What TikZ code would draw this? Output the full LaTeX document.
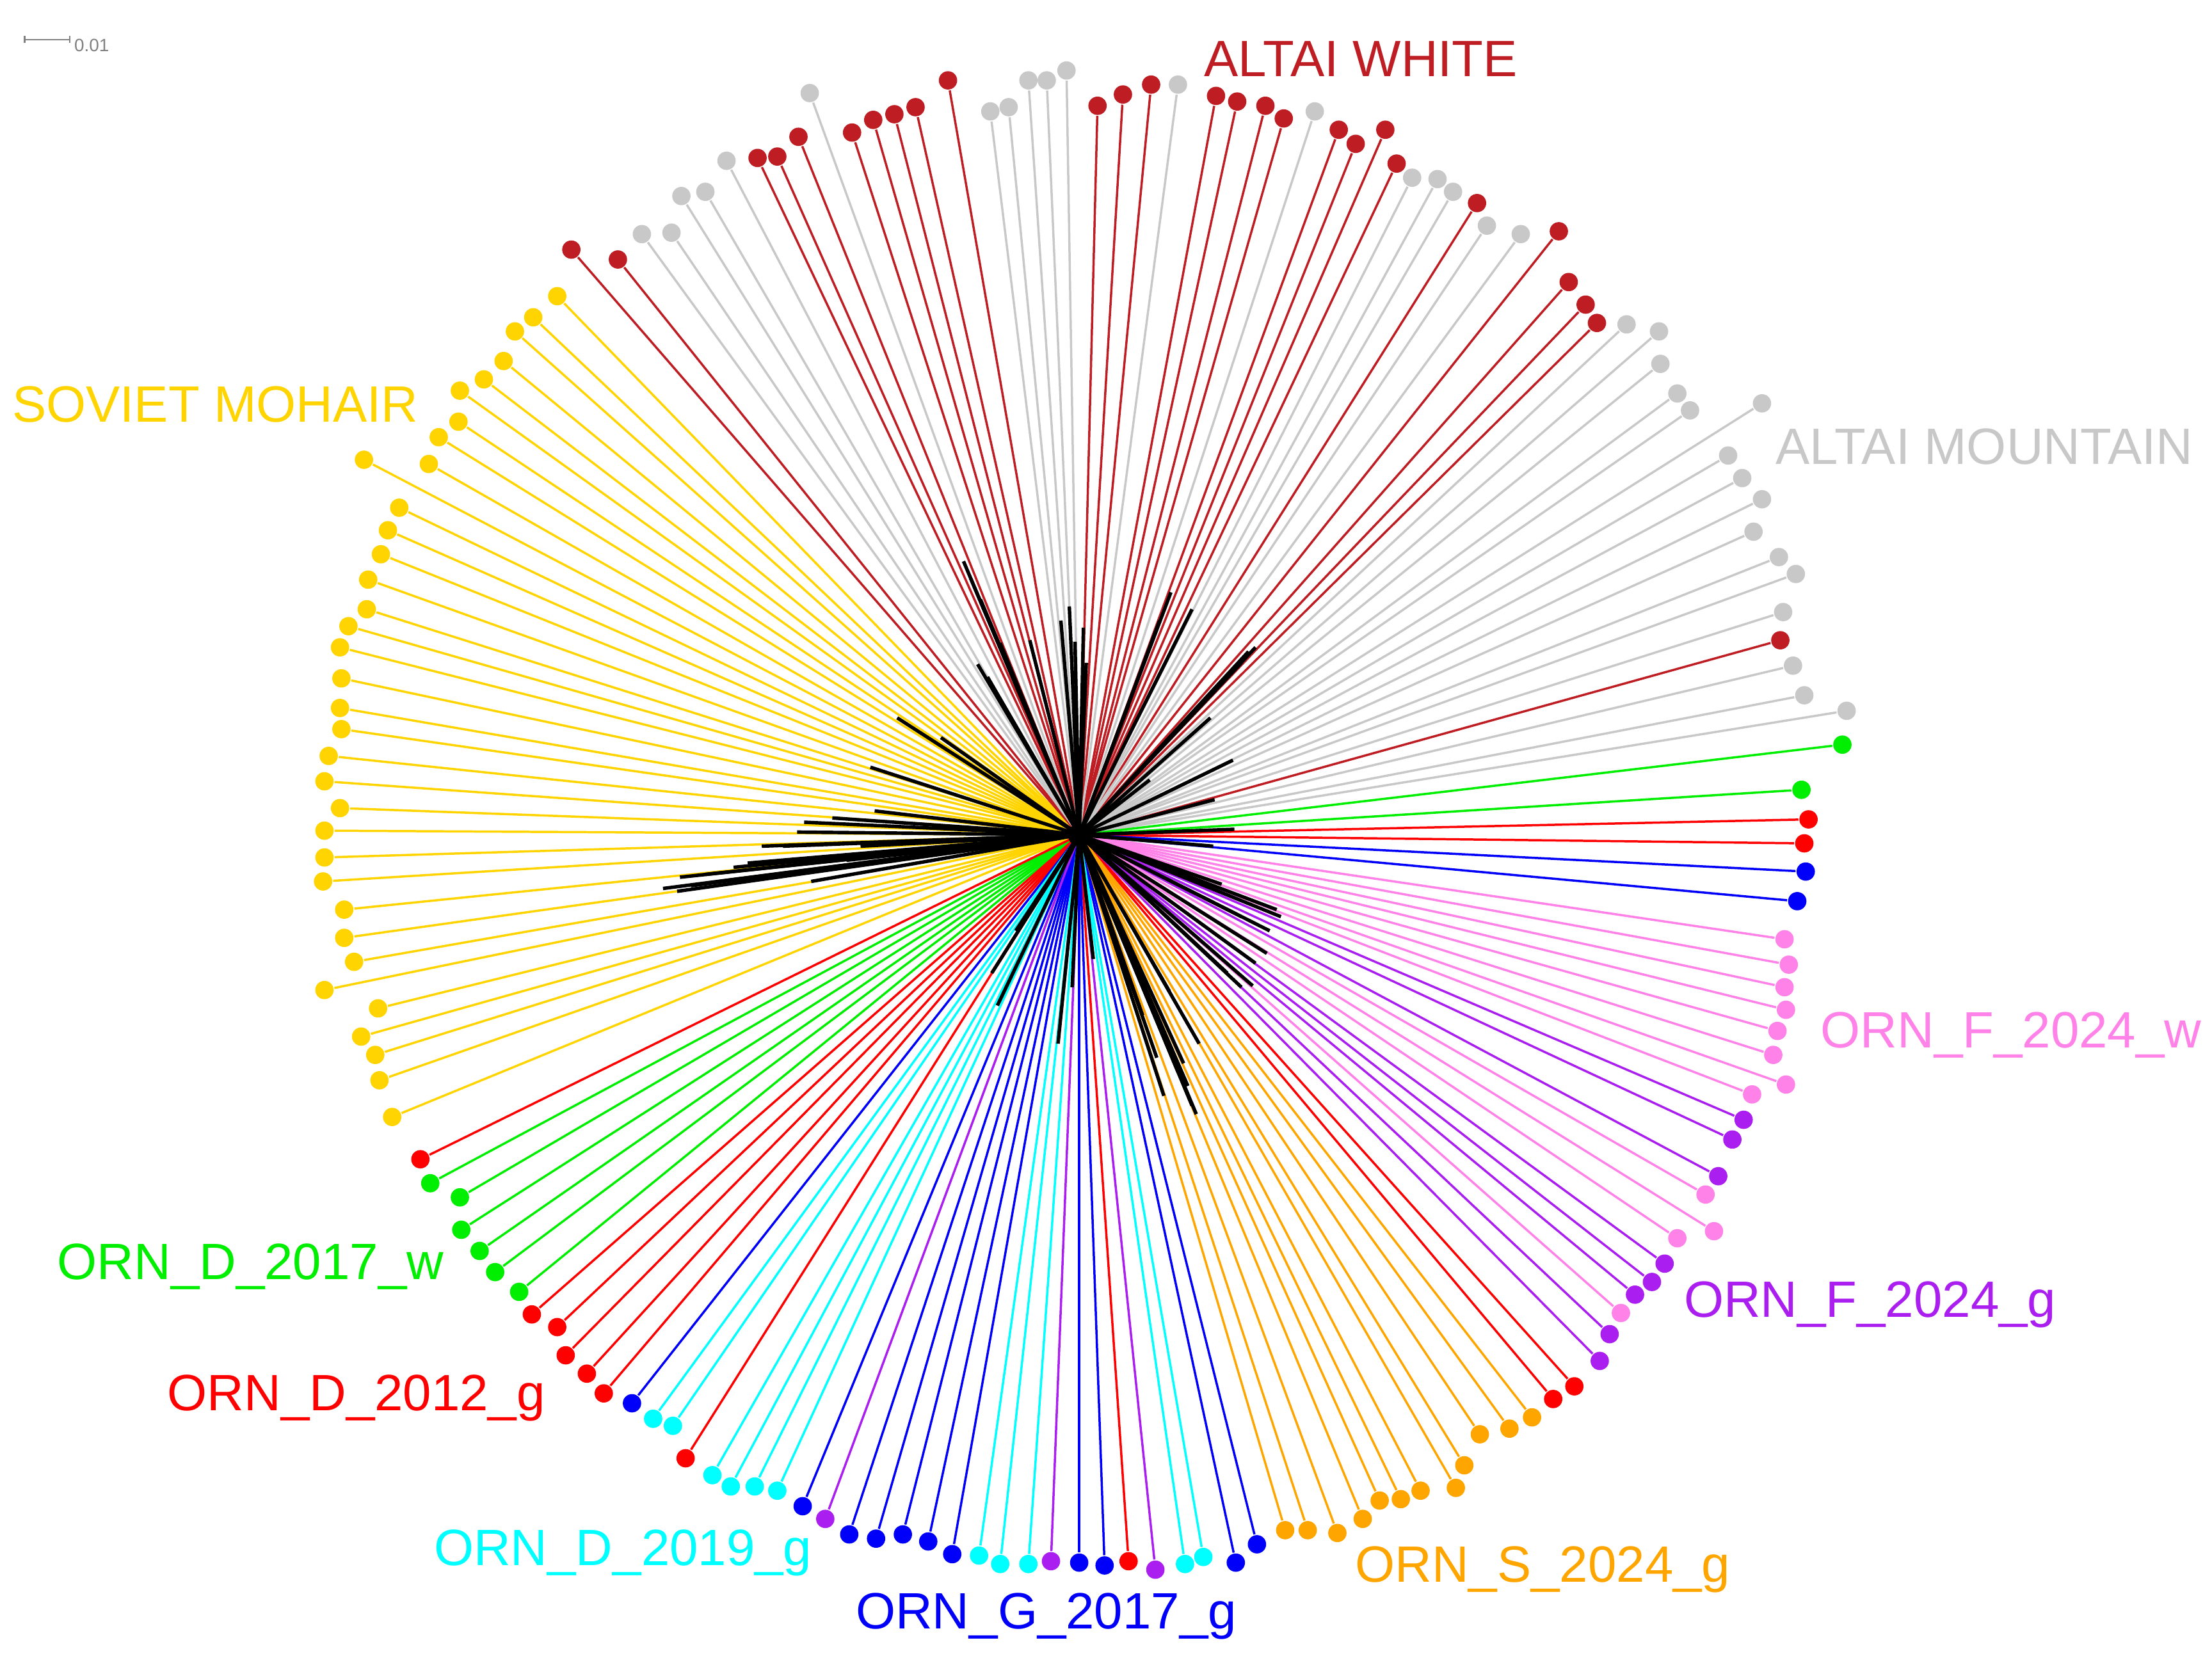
\documentclass[tikz,border=0pt]{standalone}
\usepackage{fontspec}
\setmainfont{Liberation Sans}
\usepackage{tikz}
\usetikzlibrary{arrows.meta}
\definecolor{mohair}{RGB}{255,212,0}
\definecolor{awhite}{RGB}{190,30,35}
\definecolor{amount}{RGB}{200,200,200}
\definecolor{dwcol}{RGB}{0,238,0}
\definecolor{dgcol}{RGB}{255,0,0}
\definecolor{ggcol}{RGB}{0,0,250}
\definecolor{dccol}{RGB}{0,255,255}
\definecolor{fgcol}{RGB}{170,30,240}
\definecolor{fwcol}{RGB}{255,130,232}
\definecolor{sgcol}{RGB}{255,165,0}
\tikzstyle{leaf} = [circle, inner sep = 0pt, minimum size = 0.13cm]
\tikzstyle{line} = [draw, line width = 0.45pt]
\tikzstyle{branch} = [draw, black, line width = 0.7pt]
\tikzstyle{lab} = [inner sep = 0pt, anchor = base west, font = \fontsize{10.3}{12}\selectfont]

\begin{document}
\begin{tikzpicture}[x=0.01cm, y=-0.01cm]
			\useasboundingbox (0,0) rectangle (1568,1179);
			\coordinate (hub) at (765,592);

			% leaves, one loop per group
			\foreach \x/\y [count=\i] in {395/210, 378/225, 365/235, 357/256, 343/269, 326/277, 325/299, 311/310, 258/326, 304/329, 283/360, 275/376, 270/393, 261/411, 260/432, 247/444, 241/459, 242/481, 241/502, 242/517, 233/536, 230/554, 241/573, 230/589, 230/608, 229/625, 244/645, 244/665, 251/682, 230/702, 268/715, 256/735, 266/748, 269/766, 278/792} {
				\node [leaf, fill=mohair] (sm\i) at (\x,\y) {};
				\path [line, draw=mohair] (hub) -- (sm\i);
			}
			\foreach \x/\y [count=\i] in {405/177, 438/184, 537/112, 551/111, 566/97, 604/94, 619/85, 634/81, 649/76, 672/57, 778/75, 796/67, 816/60, 862/68, 877/72, 897/75, 910/84, 949/92, 961/102, 982/92, 990/116, 1047/144, 1105/164, 1112/200, 1124/216, 1132/229, 1262/454} {
				\node [leaf, fill=awhite] (aw\i) at (\x,\y) {};
				\path [line, draw=awhite] (hub) -- (aw\i);
			}
			\foreach \x/\y [count=\i] in {455/166, 476/165, 483/139, 500/136, 515/114, 574/66, 702/79, 715/76, 729/57, 742/57, 756/50, 835/60, 932/79, 1001/126, 1019/127, 1030/136, 1054/160, 1078/166, 1153/230, 1176/235, 1177/258, 1189/279, 1198/291, 1249/286, 1225/323, 1235/339, 1249/354, 1243/377, 1261/395, 1273/407, 1264/434, 1271/472, 1279/493, 1309/504} {
				\node [leaf, fill=amount] (am\i) at (\x,\y) {};
				\path [line, draw=amount] (hub) -- (am\i);
			}
			\foreach \x/\y [count=\i] in {1306/528, 1277/560, 305/839, 326/849, 327/872, 340/887, 351/902, 368/916} {
				\node [leaf, fill=dwcol] (dw\i) at (\x,\y) {};
				\path [line, draw=dwcol] (hub) -- (dw\i);
			}
			\foreach \x/\y [count=\i] in {1282/581, 1279/598, 1116/983, 1101/992, 800/1107, 486/1034, 428/988, 416/974, 401/961, 395/941, 377/932, 298/822} {
				\node [leaf, fill=dgcol] (dg\i) at (\x,\y) {};
				\path [line, draw=dgcol] (hub) -- (dg\i);
			}
			\foreach \x/\y [count=\i] in {1280/618, 1274/639, 891/1095, 876/1108, 783/1110, 765/1108, 675/1102, 658/1093, 640/1088, 621/1091, 602/1088, 569/1068, 448/995} {
				\node [leaf, fill=ggcol] (gg\i) at (\x,\y) {};
				\path [line, draw=ggcol] (hub) -- (gg\i);
			}
			\foreach \x/\y [count=\i] in {853/1104, 840/1109, 729/1109, 709/1109, 694/1103, 551/1057, 535/1054, 518/1054, 505/1046, 477/1011, 463/1006} {
				\node [leaf, fill=dccol] (dc\i) at (\x,\y) {};
				\path [line, draw=dccol] (hub) -- (dc\i);
			}
			\foreach \x/\y [count=\i] in {1236/794, 1228/808, 1218/834, 1180/896, 1171/909, 1159/918, 1141/946, 1134/965, 819/1113, 745/1107, 585/1077} {
				\node [leaf, fill=fgcol] (fg\i) at (\x,\y) {};
				\path [line, draw=fgcol] (hub) -- (fg\i);
			}
			\foreach \x/\y [count=\i] in {1265/666, 1268/684, 1265/700, 1266/716, 1260/731, 1257/748, 1266/769, 1242/776, 1209/847, 1215/873, 1189/878, 1149/931} {
				\node [leaf, fill=fwcol] (fw\i) at (\x,\y) {};
				\path [line, draw=fwcol] (hub) -- (fw\i);
			}
			\foreach \x/\y [count=\i] in {1086/1005, 1070/1013, 1049/1017, 1038/1039, 1032/1055, 1007/1057, 993/1063, 978/1064, 966/1077, 948/1087, 927/1085, 911/1085} {
				\node [leaf, fill=sgcol] (sg\i) at (\x,\y) {};
				\path [line, draw=sgcol] (hub) -- (sg\i);
			}

			% inner branches
			\foreach \x/\y [count=\i] in {683/398, 688/410, 695/425, 693/471, 709/456, 700/480, 730/454, 752/440, 758/430, 762/455, 768/445, 770/470, 890/459, 885/462, 880/470, 870/480, 858/509, 874/539, 861/567, 815/553, 830/420, 845/432, 800/500, 822/440, 636/509, 667/523, 617/544, 470/630, 480/632, 482/622, 490/628, 500/620, 510/625, 530/612, 555/600, 565/590, 570/583, 590/580, 540/600, 600/610, 610/600, 620/575, 575/625, 520/615, 866/627, 880/650, 905/645, 908/650, 900/660, 898/676, 890/683, 888/699, 880/700, 870/690, 860/600, 875/588, 845/784, 848/790, 842/770, 839/754, 835/760, 825/777, 820/750, 829/703, 810/720, 850/740, 750/740, 760/700, 775/680, 707/713, 703/690, 734/639, 720/660} {
				\coordinate (br\i) at (\x,\y);
				\path [branch] (hub) -- (br\i);
			}
			\node [circle, fill=black, inner sep=0pt, minimum size=0.16cm] (core) at (hub) {};

			% group labels
			\node [lab, text=awhite] (awlab) at (853,54) {ALTAI WHITE};
			\node [lab, text=amount] (amlab) at (1258,329) {ALTAI MOUNTAIN};
			\node [lab, text=mohair] (smlab) at (8,299) {SOVIET MOHAIR};
			\node [lab, text=fwcol] (fwlab) at (1290,743) {ORN\_F\_2024\_w};
			\node [lab, text=fgcol] (fglab) at (1193,934) {ORN\_F\_2024\_g};
			\node [lab, text=dwcol] (dwlab) at (40,907) {ORN\_D\_2017\_w};
			\node [lab, text=dgcol] (dglab) at (118,1000) {ORN\_D\_2012\_g};
			\node [lab, text=dccol] (dclab) at (307,1110) {ORN\_D\_2019\_g};
			\node [lab, text=ggcol] (gglab) at (606,1155) {ORN\_G\_2017\_g};
			\node [lab, text=sgcol] (sglab) at (960,1122) {ORN\_S\_2024\_g};

			% scale bar
			\coordinate (sb1) at (17,28);
			\coordinate (sb2) at (50,28);
			\path [draw, gray, line width=0.3pt, {Bar[width=0.05cm]}-{Bar[width=0.05cm]}] (sb1) -- (sb2);
			\node [inner sep=0pt, anchor=west, text=gray, font=\fontsize{3.6}{4}\selectfont] (sblab) at (52,32) {0.01};
		\end{tikzpicture}
\end{document}
